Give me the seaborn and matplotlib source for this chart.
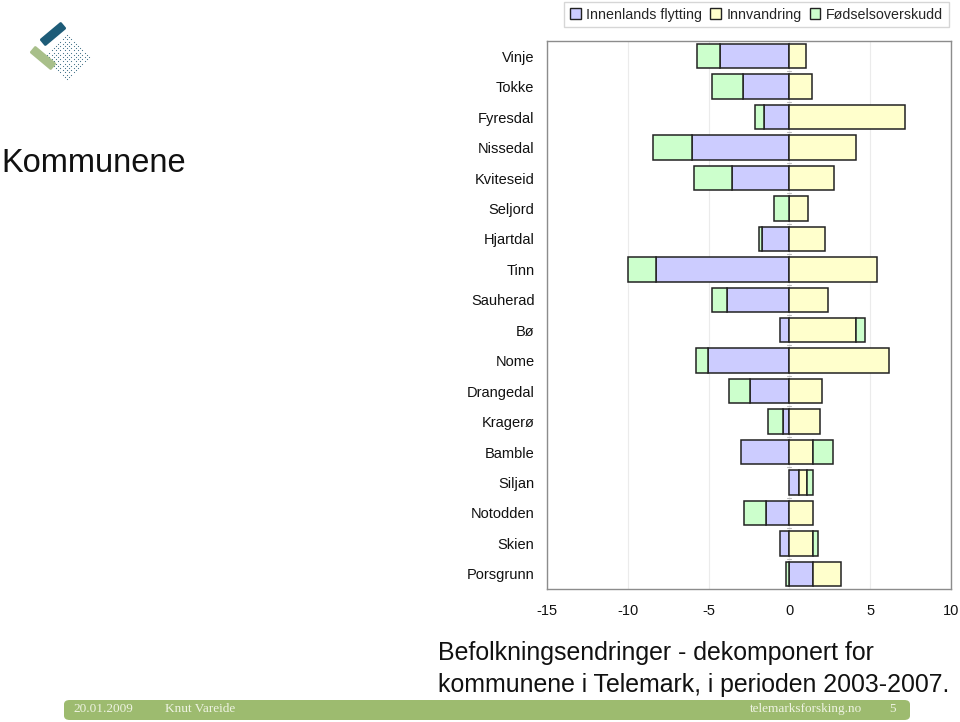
import numpy as np
import pandas as pd
import matplotlib
matplotlib.use("Agg")
import matplotlib.pyplot as plt
import matplotlib.patches as mpatches
import matplotlib.transforms as mtransforms
import seaborn as sns

# Data (top to bottom)
kommuner = ['Vinje', 'Tokke', 'Fyresdal', 'Nissedal', 'Kviteseid', 'Seljord',
            'Hjartdal', 'Tinn', 'Sauherad', 'Bø', 'Nome', 'Drangedal', 'Kragerø',
            'Bamble', 'Siljan', 'Notodden', 'Skien', 'Porsgrunn']
innenlands = [-4.31, -2.86, -1.57, -6.02, -3.58, 0.0, -1.70, -8.24, -3.85,
              -0.58, -5.03, -2.42, -0.39, -3.02, 0.62, -1.43, -0.58, 1.49]
innvandring = [1.04, 1.37, 7.18, 4.12, 2.75, 1.18, 2.22, 5.42, 2.36,
               4.12, 6.15, 2.01, 1.88, 1.45, 0.46, 1.45, 1.43, 1.70]
fodsel = [-1.39, -1.90, -0.58, -2.42, -2.30, -0.93, -0.18, -1.76, -0.91,
          0.58, -0.72, -1.30, -0.91, 1.24, 0.41, -1.39, 0.33, -0.20]

serier = ['Innenlands flytting', 'Innvandring', 'Fødselsoverskudd']
farger = ['#CCCCFF', '#FFFFCC', '#CCFFCC']

df = pd.DataFrame({'Kommune': kommuner, serier[0]: innenlands,
                   serier[1]: innvandring, serier[2]: fodsel})

sns.set_style("white")
plt.rcParams['font.family'] = ['Liberation Sans', 'DejaVu Sans']

fig = plt.figure(figsize=(9.6, 7.22), dpi=100)
ax = fig.add_axes([547 / 960, 1 - 589 / 722, 404 / 960, 548 / 722])

# Diverging stacked bars, Excel style: positives and negatives stack separately
ypos = np.arange(len(df))
pos_base = np.zeros(len(df))
neg_base = np.zeros(len(df))
for serie, farge in zip(serier, farger):
    vals = df[serie].to_numpy()
    left = np.where(vals >= 0, pos_base, neg_base)
    ax.barh(ypos, vals, left=left, height=0.8, color=farge,
            edgecolor='#222222', linewidth=1.1, zorder=3)
    pos_base = pos_base + np.clip(vals, 0, None)
    neg_base = neg_base + np.clip(vals, None, 0)

ax.set_xlim(-15, 10)
ax.set_ylim(len(df) - 0.5, -0.5)
ax.set_yticks(ypos)
ax.set_yticklabels(kommuner)
ax.set_xticks([-15, -10, -5, 0, 5, 10])
ax.set_xticklabels(['-15', '-10', '-5', '0', '5', '10'])
ax.tick_params(axis='y', length=0, pad=9, labelsize=10.5, labelcolor='#111111')
ax.tick_params(axis='x', length=0, pad=11, labelsize=10.5, labelcolor='#111111')
ax.grid(axis='x', color='#EBEBEB', linewidth=0.8, zorder=0)
ax.grid(axis='y', visible=False)
for side in ['left', 'right', 'top', 'bottom']:
    ax.spines[side].set_color('#8C8C8C')
    ax.spines[side].set_linewidth(1.0)

# small tick marks on the category axis at zero
for b in np.arange(len(df) + 1) - 0.5:
    ax.plot([-0.12, 0.12], [b, b], color='#BBBBBB', linewidth=0.8, zorder=2)

handles = [mpatches.Patch(facecolor=f, edgecolor='#222222', linewidth=1.0, label=s)
           for s, f in zip(serier, farger)]
leg = fig.legend(handles=handles, loc='upper right', ncol=3,
                 bbox_to_anchor=(949 / 960, 1 - 2 / 722), frameon=True,
                 fancybox=False, fontsize=10.3, handlelength=0.75, handleheight=0.75,
                 handletextpad=0.4, columnspacing=0.55, borderpad=0.4,
                 borderaxespad=0)
leg.get_frame().set_edgecolor('#CCCCCC')
leg.get_frame().set_linewidth(1.0)

fig.text(0.001, 1 - 163 / 722, 'Kommunene', fontsize=23.5, va='center',
         ha='left', color='#111111')
fig.text(438 / 960, 1 - 641 / 722,
         'Befolkningsendringer - dekomponert for\nkommunene i Telemark, i perioden 2003-2007.',
         fontsize=17.9, va='top', ha='left', linespacing=1.4, color='#111111')

# logo
lax = fig.add_axes([0, 1 - 95 / 722, 100 / 960, 95 / 722])
lax.set_xlim(0, 100)
lax.set_ylim(95, 0)
lax.axis('off')
gx, gy = np.meshgrid(np.arange(-5, 6), np.arange(-5, 6))
rot = np.deg2rad(45)
dx = (gx * np.cos(rot) - gy * np.sin(rot)) * 3.1 + 67
dy = (gx * np.sin(rot) + gy * np.cos(rot)) * 3.1 + 57
lax.scatter(dx.ravel(), dy.ravel(), s=0.7, color='#3E6E85', zorder=1, linewidths=0)
for (cx, cy, ang, col) in [(53, 34, -40, '#1E5C78'), (43, 58, 40, '#A8BF8A')]:
    r = mpatches.FancyBboxPatch((cx - 14, cy - 4.5), 28, 9,
                                boxstyle='round,pad=0,rounding_size=1.5',
                                facecolor=col, edgecolor='none', zorder=2)
    r.set_transform(mtransforms.Affine2D().rotate_deg_around(cx, cy, ang) + lax.transData)
    lax.add_patch(r)

# footer band
band = mpatches.FancyBboxPatch((64 / 960, 1 - 720 / 722), 846 / 960, 20 / 722,
                               boxstyle='round,pad=0,rounding_size=0.006',
                               transform=fig.transFigure, facecolor='#9DBB6F',
                               edgecolor='none')
fig.patches.append(band)
fy = 1 - 709 / 722
for x, s, ha in [(73, '20.01.2009', 'left'), (165, 'Knut Vareide', 'left'),
                 (862, 'telemarksforsking.no', 'right'), (896, '5', 'right')]:
    fig.text(x / 960, fy, s, fontsize=9.5, ha=ha, va='center', color='#EEF3E2',
             family=['Liberation Serif', 'DejaVu Serif'])

fig.savefig('out.png', dpi=100)
